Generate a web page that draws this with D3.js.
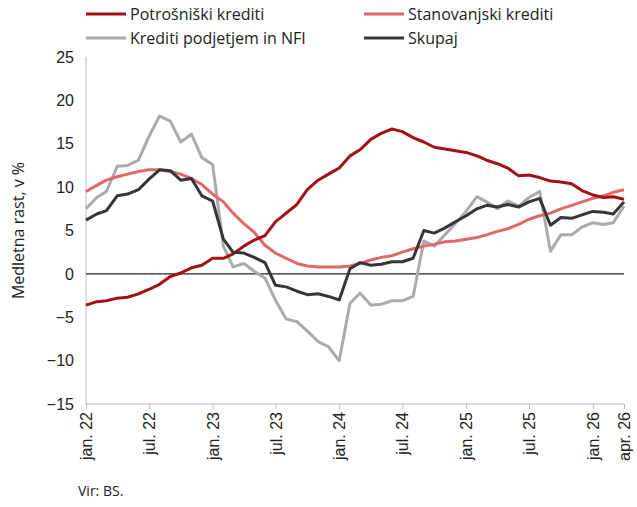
<!DOCTYPE html>
<html><head><meta charset="utf-8">
<script src="https://cdn.jsdelivr.net/npm/d3@7"></script>
<style>body{margin:0;background:#fff;font-family:"Open Sans",sans-serif}</style>
</head><body><div class="chart"></div>
<script>
var months = ["jan","feb","mar","apr","maj","jun","jul","avg","sep","okt","nov","dec"];
var dates = d3.range(52).map(function(i){ return new Date(2022, i, 1); });

var potrosniski = [-3.6,-3.2,-3.1,-2.8,-2.7,-2.3,-1.8,-1.2,-0.3,0.1,0.7,1.0,
  1.8,1.8,2.3,3.2,3.9,4.4,6.0,7.0,8.0,9.7,10.8,11.5,
  12.2,13.6,14.3,15.5,16.2,16.7,16.4,15.7,15.2,14.6,14.4,14.2,
  14.0,13.6,13.1,12.7,12.2,11.3,11.4,11.1,10.7,10.6,10.4,9.6,9.1,8.8,8.9,8.6];
var stanovanjski = [9.5,10.2,10.8,11.2,11.5,11.8,12.0,12.0,11.8,11.5,11.0,10.3,
  9.2,8.3,7.0,5.8,4.8,3.3,2.4,1.8,1.2,0.9,0.8,0.8,
  0.8,0.9,1.2,1.6,1.9,2.1,2.5,2.9,3.2,3.4,3.7,3.8,
  4.0,4.2,4.5,4.9,5.2,5.7,6.3,6.7,7.0,7.5,7.9,8.3,8.7,9.0,9.4,9.7];
var podjetja = [7.5,8.8,9.5,12.4,12.5,13.1,15.8,18.2,17.6,15.2,16.1,13.4,
  12.6,3.2,0.8,1.2,0.3,-0.5,-3.0,-5.2,-5.5,-6.6,-7.8,-8.4,
  -10.0,-3.4,-2.2,-3.6,-3.5,-3.1,-3.1,-2.6,3.8,3.2,4.5,5.8,
  7.2,8.9,8.3,7.5,8.4,7.8,8.8,9.5,2.6,4.5,4.5,5.4,5.9,5.7,5.9,7.8];
var skupaj = [6.2,6.9,7.3,9.0,9.2,9.7,10.9,12.0,11.9,10.8,11.0,9.0,
  8.4,4.0,2.5,2.4,1.9,1.3,-1.3,-1.5,-2.0,-2.4,-2.3,-2.6,
  -3.0,0.6,1.3,1.0,1.1,1.4,1.4,1.8,5.0,4.7,5.3,6.0,
  6.7,7.5,7.9,7.7,8.0,7.7,8.3,8.7,5.6,6.5,6.4,6.8,7.2,7.1,6.9,8.3];
var yTicks = [-15,-10,-5,0,5,10,15,20,25];
var xTickIdx = [0,6,12,18,24,30,36,42,48,51];

var series = [
  {name:"Potrošniški krediti", values:potrosniski, color:"#a50f15"},
  {name:"Stanovanjski krediti", values:stanovanjski, color:"#e0676a"},
  {name:"Krediti podjetjem in NFI", values:podjetja, color:"#a8abaf"},
  {name:"Skupaj", values:skupaj, color:"#363638"}
];

var svgWidth = 637, svgHeight = 507;
var margin = {top:57, right:13, bottom:103, left:86};
var width = svgWidth - margin.left - margin.right;
var height = svgHeight - margin.top - margin.bottom;

var svg = d3.select(".chart").append("svg")
  .attr("width", svgWidth).attr("height", svgHeight);
var g = svg.append("g").attr("transform", `translate(${margin.left},${margin.top})`);

var x = d3.scaleTime().domain([dates[0], dates[51]]).range([0, width]);
var y = d3.scaleLinear().domain([-15, 25]).range([height, 0]);

// y axis
var yAxis = g.append("g").call(d3.axisLeft(y).tickValues(yTicks).tickSize(0).tickPadding(12));
yAxis.select(".domain").remove();
yAxis.selectAll("text").style("font-size", "16px").style("fill", "#222");

// frame lines
g.append("line").attr("x1",0).attr("x2",0).attr("y1",0).attr("y2",height).attr("stroke","#bbb");
g.append("line").attr("x1",0).attr("x2",width).attr("y1",height).attr("y2",height).attr("stroke","#bbb");
g.append("line").attr("x1",0).attr("x2",width).attr("y1",y(0)).attr("y2",y(0)).attr("stroke","#222").attr("stroke-width",1.3);

// x axis
var xAxis = g.append("g").attr("transform", `translate(0,${height})`)
  .call(d3.axisBottom(x).tickValues(xTickIdx.map(function(i){ return dates[i]; }))
    .tickSize(5)
    .tickFormat(function(d){ return months[d.getMonth()] + ". " + String(d.getFullYear()).slice(2); }));
xAxis.select(".domain").remove();
xAxis.selectAll("line").attr("stroke","#bbb");
xAxis.selectAll("text")
  .attr("transform","rotate(-90)")
  .attr("text-anchor","end")
  .attr("x",-8).attr("y",0).attr("dy","0.35em")
  .style("font-size","16px").style("fill","#222");

var line = d3.line().x(function(d,i){ return x(dates[i]); }).y(function(d){ return y(d); });
[2,1,0,3].forEach(function(k){
  g.append("path").datum(series[k].values)
    .attr("fill","none").attr("stroke",series[k].color)
    .attr("stroke-width",3).attr("stroke-linejoin","round")
    .attr("d", line);
});

// y label
svg.append("text").attr("transform","translate(24,"+(margin.top+height/2)+") rotate(-90)")
  .attr("text-anchor","middle").style("font-size","16px").style("fill","#222")
  .text("Medletna rast, v %");

// legend
var legPos = [[86,14],[364,14],[86,38],[364,38]];
series.forEach(function(s,k){
  var lg = svg.append("g").attr("transform", `translate(${legPos[k][0]},${legPos[k][1]})`);
  lg.append("line").attr("x1",0).attr("x2",40).attr("stroke",s.color).attr("stroke-width",3);
  lg.append("text").attr("x",44).attr("dy","0.35em").style("font-size","16px").style("fill","#222").text(s.name);
});

svg.append("text").attr("x",78).attr("y",496).style("font-size","14px").style("fill","#222").text("Vir: BS.");
</script></body></html>
